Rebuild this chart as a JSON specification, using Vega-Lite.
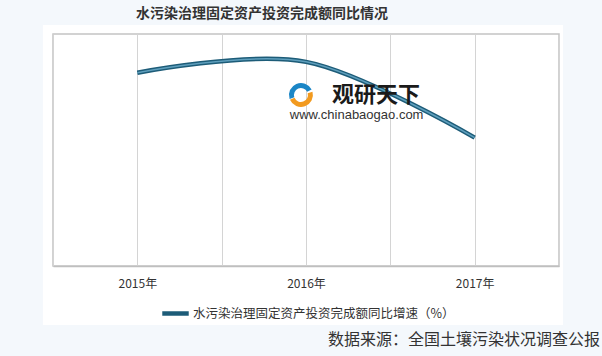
{
  "$schema": "https://vega.github.io/schema/vega-lite/v6.json",
  "width": 506,
  "height": 232,
  "autosize": {"type": "none"},
  "padding": {"left": 53, "top": 34, "right": 43, "bottom": 90},
  "background": "#ffffff",
  "config": {
    "font": "Noto Sans CJK SC",
    "view": {"stroke": "#c4c4c4", "strokeWidth": 1.5}
  },
  "title": {
    "text": "水污染治理固定资产投资完成额同比情况",
    "fontSize": 14,
    "fontWeight": "bold",
    "color": "#333333",
    "anchor": "middle",
    "frame": "group",
    "dx": -44,
    "dy": 31,
    "offset": 10
  },
  "datasets": {
    "strips": [
      {"x1": 2014.1, "x2": 2017.8, "y1": -13, "y2": -7.63},
      {"x1": 2014.1, "x2": 2017.8, "y1": 31.16, "y2": 34.4},
      {"x1": 2014.1, "x2": 2014.44, "y1": -7.63, "y2": 31.16},
      {"x1": 2017.524, "x2": 2017.8, "y1": -7.63, "y2": 31.16}
    ],
    "series": [
      {"year": 2015, "value": 25.0, "series": "水污染治理固定资产投资完成额同比增速（%）"},
      {"year": 2016, "value": 26.4, "series": "水污染治理固定资产投资完成额同比增速（%）"},
      {"year": 2017, "value": 16.6, "series": "水污染治理固定资产投资完成额同比增速（%）"}
    ],
    "source": [{"label": "数据来源：全国土壤污染状况调查公报"}],
    "wm1": [{"label": "观研天下"}],
    "wm2": [{"label": "www.chinabaogao.com"}],
    "logo": [{"part": "logo"}]
  },
  "layer": [
    {
      "data": {"name": "strips"},
      "mark": {"type": "rect", "fill": "#f4f8fc", "clip": false},
      "encoding": {
        "x": {"field": "x1", "type": "quantitative", "title": null},
        "x2": {"field": "x2"},
        "y": {"field": "y1", "type": "quantitative", "axis": null, "title": null},
        "y2": {"field": "y2"}
      }
    },
    {
      "data": {"name": "series"},
      "mark": {"type": "line", "interpolate": "cardinal", "strokeWidth": 4.5, "clip": false},
      "encoding": {
        "x": {
          "field": "year",
          "type": "quantitative",
          "title": null,
          "scale": {"domain": [2014.5, 2017.5], "nice": false, "zero": false},
          "axis": {
            "values": [2014.5, 2015, 2015.5, 2016, 2016.5, 2017, 2017.5],
            "labelExpr": "datum.value % 1 == 0 ? datum.value + '年' : ''",
            "grid": true,
            "gridColor": "#d4d4d4",
            "gridWidth": 1,
            "ticks": false,
            "domainColor": "#bfbfbf",
            "domainWidth": 1.5,
            "labelFontSize": 12,
            "labelColor": "#333333",
            "labelPadding": 12,
            "labelFlush": false,
            "labelOverlap": false
          }
        },
        "y": {
          "field": "value",
          "type": "quantitative",
          "title": null,
          "axis": null,
          "scale": {"domain": [0, 30], "nice": false}
        },
        "color": {
          "field": "series",
          "type": "nominal",
          "scale": {"range": ["#1d5c78"]},
          "legend": {
            "orient": "none",
            "legendX": 107,
            "legendY": 264,
            "padding": 0,
            "title": null,
            "symbolType": "stroke",
            "symbolStrokeWidth": 4.5,
            "symbolSize": 700,
            "labelFontSize": 12.5,
            "labelColor": "#333333",
            "labelLimit": 500,
            "labelOffset": 2
          }
        }
      }
    },
    {
      "data": {"name": "series"},
      "mark": {"type": "line", "interpolate": "cardinal", "strokeWidth": 1.5, "color": "#5f9fbd", "clip": false},
      "encoding": {
        "x": {"field": "year", "type": "quantitative", "title": null},
        "y": {"field": "value", "type": "quantitative", "axis": null, "title": null}
      }
    },
    {
      "data": {"name": "logo"},
      "mark": {"type": "arc", "radius": 12, "radius2": 7, "theta": -1.9, "theta2": 1.1, "fill": "#1b86c6"},
      "encoding": {
        "x": {"datum": 2015.97, "type": "quantitative", "title": null},
        "y": {"datum": 22.11, "type": "quantitative", "axis": null, "title": null}
      }
    },
    {
      "data": {"name": "logo"},
      "mark": {"type": "arc", "radius": 12, "radius2": 7, "theta": 1.3, "theta2": 4.3, "fill": "#f29a1f"},
      "encoding": {
        "x": {"datum": 2015.97, "type": "quantitative", "title": null},
        "y": {"datum": 22.11, "type": "quantitative", "axis": null, "title": null}
      }
    },
    {
      "data": {"name": "wm1"},
      "mark": {"type": "text", "fontSize": 22, "fontWeight": "bold", "color": "#1a1a1a", "align": "center", "baseline": "middle"},
      "encoding": {
        "x": {"datum": 2016.415, "type": "quantitative", "title": null},
        "y": {"datum": 22.11, "type": "quantitative", "axis": null, "title": null},
        "text": {"field": "label"}
      }
    },
    {
      "data": {"name": "wm2"},
      "mark": {"type": "text", "fontSize": 13, "font": "Liberation Sans", "color": "#333333", "align": "center", "baseline": "middle"},
      "encoding": {
        "x": {"datum": 2016.3, "type": "quantitative", "title": null},
        "y": {"datum": 19.53, "type": "quantitative", "axis": null, "title": null},
        "text": {"field": "label"}
      }
    },
    {
      "data": {"name": "source"},
      "mark": {"type": "text", "fontSize": 16, "color": "#333333", "align": "right", "baseline": "middle"},
      "encoding": {
        "x": {"datum": 2017.743, "type": "quantitative", "title": null},
        "y": {"datum": -9.57, "type": "quantitative", "axis": null, "title": null},
        "text": {"field": "label"}
      }
    }
  ]
}
